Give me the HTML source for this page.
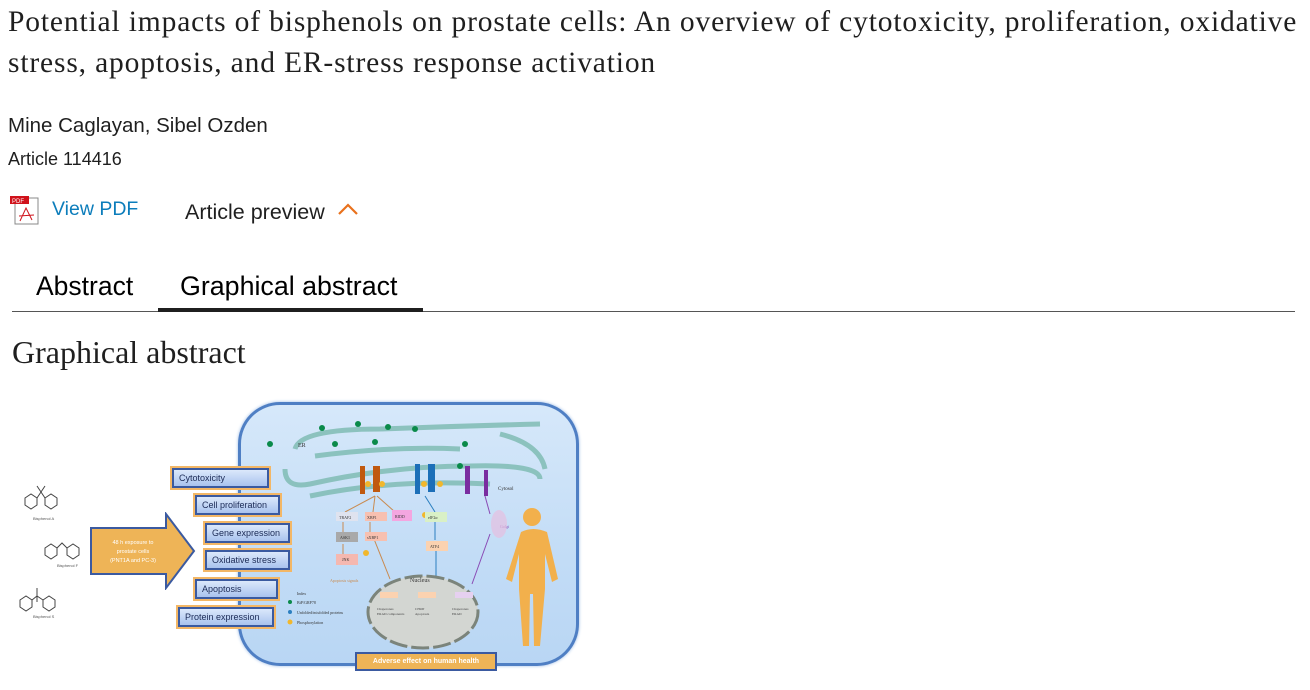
<!DOCTYPE html>
<html><head><meta charset="utf-8"><style>
body{margin:0;width:1310px;height:690px;background:#fff;position:relative;overflow:hidden;font-family:"Liberation Sans",sans-serif;color:#1f1f1f}
.a{position:absolute;white-space:nowrap}
.serif{font-family:"Liberation Serif",serif}
.bx{position:absolute;background:linear-gradient(#dbe8fb,#a9c3ee);border:2px solid #3a5aa0;box-shadow:0 0 0 2px #f3b766;font-size:9px;color:#1b2a55;padding-left:5px;line-height:16px;height:16px}
</style></head><body>
<div class="a serif" style="left:8px;top:2px;font-size:29.5px;letter-spacing:0.85px;line-height:41px;color:#1f1f1f">Potential impacts of bisphenols on prostate cells: An overview of cytotoxicity, proliferation, oxidative<br>stress, apoptosis, and ER-stress response activation</div>
<div class="a" style="left:8px;top:114px;font-size:20.5px">Mine Caglayan, Sibel Ozden</div>
<div class="a" style="left:8px;top:149px;font-size:18px">Article 114416</div>
<svg class="a" style="left:10px;top:196px" width="30" height="30"><rect x="5" y="2" width="23" height="26" fill="#fff" stroke="#888"/><rect x="0" y="0" width="19" height="8" fill="#d0121b"/><text x="2" y="7" font-size="6" fill="#fff" font-family="Liberation Sans">PDF</text><path d="M10 25 L16 12 L22 24 M9 20 L24 19" stroke="#d0121b" fill="none"/></svg>
<div class="a" style="left:52px;top:198px;font-size:19.5px;color:#0c7dbb">View PDF</div>
<div class="a" style="left:185px;top:200px;font-size:21.5px">Article preview</div>
<svg class="a" style="left:337px;top:202px" width="22" height="14"><path d="M2 12 L11 3 L20 12" stroke="#e9711c" stroke-width="2.2" fill="none"/></svg>
<div class="a" style="left:36px;top:271px;font-size:26.5px;color:#000">Abstract</div>
<div class="a" style="left:180px;top:271px;font-size:26.8px;color:#000">Graphical abstract</div>
<div class="a" style="left:12px;top:311px;width:1283px;height:1px;background:#555"></div>
<div class="a" style="left:158px;top:308px;width:265px;height:4px;background:#1f1f1f"></div>
<div class="a serif" style="left:12px;top:334px;font-size:32px">Graphical abstract</div>

<div class="a" style="left:238px;top:402px;width:335px;height:258px;border-radius:42px;border:3px solid #4f7fc4;background:linear-gradient(#d6e8fa,#c2dcf6 60%,#b9d6f4);box-shadow:0 0 3px #9bbbe5"></div>
<svg class="a" style="left:240px;top:404px" width="335" height="256">
<g fill="none" stroke="#7bbab0" stroke-width="5" opacity=".8">
<path d="M55 45 Q60 25 140 25 Q220 22 300 20"/><path d="M75 52 Q150 42 220 45"/><path d="M45 65 Q45 85 70 80 Q150 62 230 62 Q300 60 300 75"/><path d="M70 92 Q150 75 250 80"/><path d="M260 30 Q300 40 305 65"/>
</g>
<g fill="#0a8a4a"><circle cx="82" cy="24" r="3"/><circle cx="118" cy="20" r="3"/><circle cx="148" cy="23" r="3"/><circle cx="175" cy="25" r="3"/><circle cx="30" cy="40" r="3"/><circle cx="95" cy="40" r="3"/><circle cx="135" cy="38" r="3"/><circle cx="225" cy="40" r="3"/><circle cx="27" cy="66" r="3"/><circle cx="220" cy="62" r="3"/></g>
<text x="58" y="43" font-size="6" fill="#333" font-family="Liberation Serif">ER</text>
<text x="258" y="86" font-size="5" fill="#333" font-family="Liberation Serif">Cytosol</text>
<g><rect x="120" y="62" width="5" height="28" fill="#c0590f"/><rect x="133" y="62" width="7" height="26" fill="#c0590f"/><rect x="175" y="60" width="5" height="30" fill="#1c6fb8"/><rect x="188" y="60" width="7" height="28" fill="#1c6fb8"/><rect x="225" y="62" width="5" height="28" fill="#7a2da0"/><rect x="244" y="66" width="4" height="26" fill="#7a2da0"/></g>
<g fill="#f1b72c"><circle cx="128" cy="80" r="3"/><circle cx="142" cy="80" r="3"/><circle cx="184" cy="80" r="3"/><circle cx="200" cy="80" r="3"/><circle cx="126" cy="149" r="3"/><circle cx="185" cy="111" r="3"/></g>
<g fill="none" stroke="#c98a50" stroke-width="1"><path d="M135 92 L105 108 M135 92 L133 108 M137 92 L155 108 M103 118 L103 132 M103 140 L103 152 M130 118 L130 130 M132 130 L150 175"/></g>
<g fill="none" stroke="#2c7fc0"><path d="M185 92 L195 108 M195 118 L195 136 M196 146 L196 180"/></g>
<path d="M245 92 L250 110 M250 130 L232 180" stroke="#8a4bb5" fill="none"/>
<g font-family="Liberation Serif" font-size="4" fill="#333">
<rect x="96" y="108" width="22" height="9" fill="#dfe3ef"/><text x="99" y="115">TRAF2</text>
<rect x="96" y="128" width="22" height="10" fill="#a9a9a9"/><text x="100" y="135">ASK1</text>
<rect x="96" y="150" width="22" height="11" fill="#f5b8b0"/><text x="102" y="157">JNK</text>
<rect x="125" y="108" width="22" height="9" fill="#f7c0b0"/><text x="127" y="115">XBP1</text>
<rect x="125" y="128" width="22" height="9" fill="#f7c0b0"/><text x="127" y="135">sXBP1</text>
<rect x="152" y="106" width="20" height="11" fill="#f4a6e0"/><text x="155" y="114">RIDD</text>
<rect x="185" y="108" width="22" height="10" fill="#d9f0c6"/><text x="188" y="115">eIF2α</text>
<rect x="186" y="137" width="22" height="10" fill="#fbd2b0"/><text x="190" y="144">ATF4</text>
<text x="90" y="178" fill="#c98a50">Apoptosis signals</text>
<text x="260" y="124" fill="#8a4bb5">Golgi</text>
</g>
<ellipse cx="259" cy="120" rx="8" ry="14" fill="#e6bfe0" opacity=".7"/>
<ellipse cx="183" cy="208" rx="55" ry="36" fill="#d3d6d2" stroke="#7b847b" stroke-width="3" stroke-dasharray="18 4"/>
<text x="170" y="178" font-size="6" fill="#333" font-family="Liberation Serif">Nucleus</text>
<g font-size="3.5" fill="#444" font-family="Liberation Serif"><rect x="140" y="188" width="18" height="6" fill="#fbd2b0"/><rect x="178" y="188" width="18" height="6" fill="#fbd2b0"/><rect x="215" y="188" width="18" height="6" fill="#e6d0f0"/>
<text x="137" y="206">Chaperones</text><text x="137" y="211">ERAD components</text><text x="175" y="206">CHOP</text><text x="175" y="211">Apoptosis</text><text x="212" y="206">Chaperones</text><text x="212" y="211">ERAD</text></g>
<g font-size="4" fill="#333" font-family="Liberation Serif"><text x="57" y="191">Index</text><circle cx="50" cy="198" r="2" fill="#0a8a4a"/><text x="57" y="200">BiP/GRP78</text><circle cx="50" cy="208" r="2" fill="#2c7fc0"/><text x="57" y="210">Unfolded/misfolded proteins</text><circle cx="50" cy="218" r="2.5" fill="#f1b72c"/><text x="57" y="220">Phosphorylation</text></g>
<g transform="translate(0,10)"><circle cx="292" cy="103" r="9" fill="#f2b04c"/><path fill="#f2b04c" d="M281 118 Q293 112 307 118 L318 165 L312 168 L305 140 L305 175 L300 232 L294 232 L293 180 L290 180 L289 232 L283 232 L279 175 L279 140 L272 168 L266 165 Z"/></g>
</svg>
<svg class="a" style="left:5px;top:470px" width="100" height="150" fill="none" stroke="#444" stroke-width="1">
<path d="M20 28 l6-4 6 4 0 7 -6 4 -6-4z M40 28 l6-4 6 4 0 7 -6 4 -6-4z M32 28 l4 -6 4 6 M36 22 l-4 -6 M36 22 l4-6"/>
<path d="M40 78 l6-4 6 4 0 7 -6 4 -6-4z M62 78 l6-4 6 4 0 7 -6 4 -6-4z M52 78 l5-5 5 5"/>
<path d="M15 130 l6-4 6 4 0 7 -6 4 -6-4z M38 130 l6-4 6 4 0 7 -6 4 -6-4z M27 130 l5-4 6 4 M32 126 l0-8 M32 126 l0 6"/>
<g fill="#555" stroke="none" font-size="4" font-family="Liberation Sans"><text x="28" y="50">Bisphenol A</text><text x="52" y="97">Bisphenol F</text><text x="28" y="148">Bisphenol S</text></g>
</svg>
<svg class="a" style="left:88px;top:512px" width="110" height="78"><path d="M3 16 L78 16 L78 2 L106 39 L78 76 L78 62 L3 62 Z" fill="#eeb457" stroke="#3b5aa0" stroke-width="2"/>
<g fill="#fff" font-size="5.5" text-anchor="middle" font-family="Liberation Sans"><text x="45" y="32">48 h exposure to</text><text x="45" y="41">prostate cells</text><text x="45" y="50">(PNT1A and PC-3)</text></g></svg>
<div class="bx" style="left:172px;top:468px;width:88px">Cytotoxicity</div>
<div class="bx" style="left:195px;top:495px;width:76px">Cell proliferation</div>
<div class="bx" style="left:205px;top:523px;width:76px">Gene expression</div>
<div class="bx" style="left:205px;top:550px;width:76px">Oxidative stress</div>
<div class="bx" style="left:195px;top:579px;width:74px">Apoptosis</div>
<div class="bx" style="left:178px;top:607px;width:87px">Protein expression</div>
<div class="a" style="left:355px;top:652px;width:138px;height:15px;background:#eeb457;border:2px solid #3b5aa0;color:#fff;font-size:7px;text-align:center;line-height:15px;font-weight:bold">Adverse effect on human health</div>
</body></html>
